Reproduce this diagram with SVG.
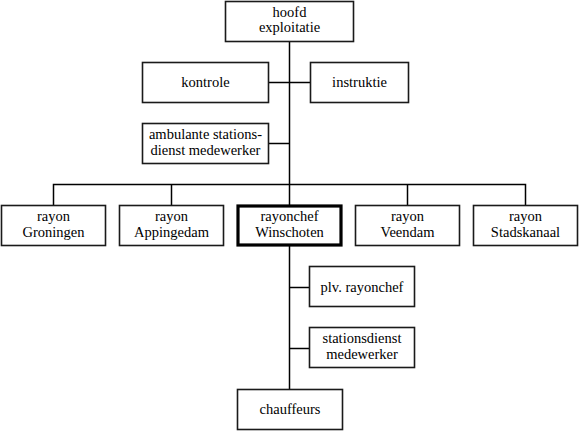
<svg xmlns="http://www.w3.org/2000/svg" width="579" height="431" viewBox="0 0 579 431">
<rect width="579" height="431" fill="#fff"/>
<g id="connectors" fill="none" stroke="#000" stroke-width="1.5">
<path d="M289.5 42 V205"/>
<path d="M269 82.5 H310"/>
<path d="M269 143.5 H289.5"/>
<path d="M53.5 205 V184.5 H525.5 V205"/>
<path d="M171.5 184.5 V205"/>
<path d="M407.5 184.5 V205"/>
<path d="M289.5 246 V389"/>
<path d="M289.5 287.5 H309.5"/>
<path d="M289.5 348.5 H309.5"/>
</g>
<g id="hoofd"><rect x="225.5" y="1.5" width="128" height="40" fill="#fff" stroke="#1a1a1a" stroke-width="1.6"/><text font-family="Times New Roman" font-size="14.5" x="289.5" y="17" text-anchor="middle">hoofd</text><text font-family="Times New Roman" font-size="14.5" x="289.5" y="32" text-anchor="middle">exploitatie</text></g>
<g id="kontrole"><rect x="142.5" y="62.5" width="126" height="40" fill="#fff" stroke="#1a1a1a" stroke-width="1.6"/><text font-family="Times New Roman" font-size="14.5" x="205.5" y="87" text-anchor="middle">kontrole</text></g>
<g id="instruktie"><rect x="310.5" y="62.5" width="98" height="40" fill="#fff" stroke="#1a1a1a" stroke-width="1.6"/><text font-family="Times New Roman" font-size="14.5" x="359.5" y="87" text-anchor="middle">instruktie</text></g>
<g id="ambulante"><rect x="142.5" y="123.5" width="126" height="40" fill="#fff" stroke="#1a1a1a" stroke-width="1.6"/><text font-family="Times New Roman" font-size="14.5" x="205.5" y="139" text-anchor="middle">ambulante stations-</text><text font-family="Times New Roman" font-size="14.5" x="205.5" y="155" text-anchor="middle">dienst medewerker</text></g>
<g id="groningen"><rect x="1.5" y="205.5" width="104" height="40" fill="#fff" stroke="#1a1a1a" stroke-width="1.6"/><text font-family="Times New Roman" font-size="14.5" x="53.5" y="221" text-anchor="middle">rayon</text><text font-family="Times New Roman" font-size="14.5" x="53.5" y="237" text-anchor="middle">Groningen</text></g>
<g id="appingedam"><rect x="119.5" y="205.5" width="104" height="40" fill="#fff" stroke="#1a1a1a" stroke-width="1.6"/><text font-family="Times New Roman" font-size="14.5" x="171.5" y="221" text-anchor="middle">rayon</text><text font-family="Times New Roman" font-size="14.5" x="171.5" y="237" text-anchor="middle">Appingedam</text></g>
<g id="winschoten"><rect x="238" y="206" width="103" height="39" fill="#fff" stroke="#000" stroke-width="3.2"/><text font-family="Times New Roman" font-size="14.5" x="289.5" y="221" text-anchor="middle">rayonchef</text><text font-family="Times New Roman" font-size="14.5" x="289.5" y="237" text-anchor="middle">Winschoten</text></g>
<g id="veendam"><rect x="355.5" y="205.5" width="104" height="40" fill="#fff" stroke="#1a1a1a" stroke-width="1.6"/><text font-family="Times New Roman" font-size="14.5" x="407.5" y="221" text-anchor="middle">rayon</text><text font-family="Times New Roman" font-size="14.5" x="407.5" y="237" text-anchor="middle">Veendam</text></g>
<g id="stadskanaal"><rect x="473.5" y="205.5" width="104" height="40" fill="#fff" stroke="#1a1a1a" stroke-width="1.6"/><text font-family="Times New Roman" font-size="14.5" x="525.5" y="221" text-anchor="middle">rayon</text><text font-family="Times New Roman" font-size="14.5" x="525.5" y="237" text-anchor="middle">Stadskanaal</text></g>
<g id="plv"><rect x="309.5" y="266.5" width="105" height="40" fill="#fff" stroke="#1a1a1a" stroke-width="1.6"/><text font-family="Times New Roman" font-size="14.5" x="362" y="291.5" text-anchor="middle">plv. rayonchef</text></g>
<g id="stationsdienst"><rect x="309.5" y="327.5" width="105" height="40" fill="#fff" stroke="#1a1a1a" stroke-width="1.6"/><text font-family="Times New Roman" font-size="14.5" x="362" y="343" text-anchor="middle">stationsdienst</text><text font-family="Times New Roman" font-size="14.5" x="362" y="359" text-anchor="middle">medewerker</text></g>
<g id="chauffeurs"><rect x="237.5" y="389.5" width="105" height="40" fill="#fff" stroke="#1a1a1a" stroke-width="1.6"/><text font-family="Times New Roman" font-size="14.5" x="290" y="414" text-anchor="middle">chauffeurs</text></g>
</svg>
